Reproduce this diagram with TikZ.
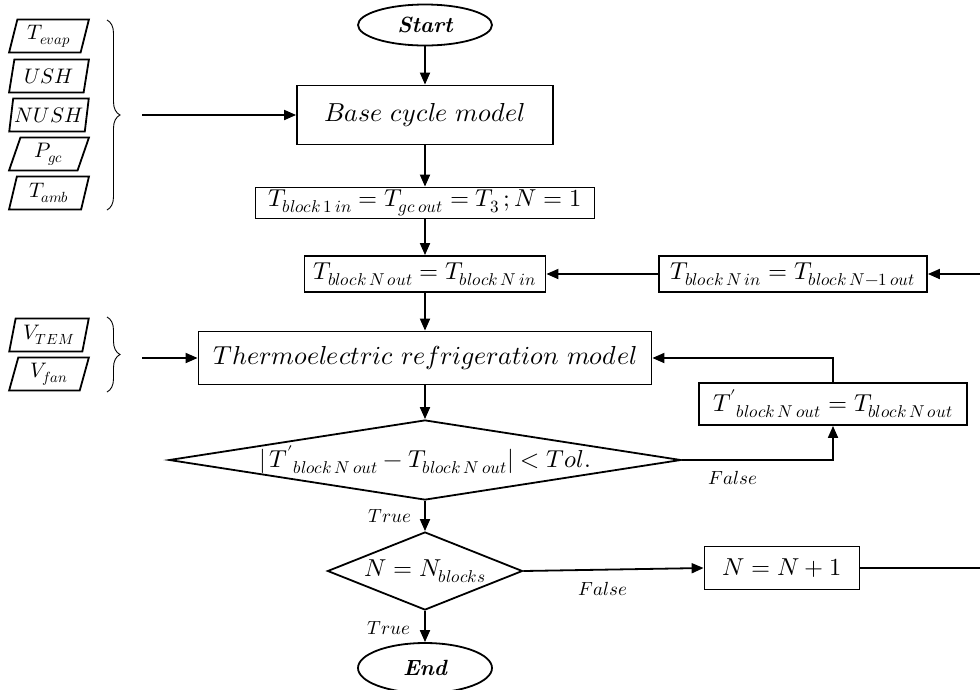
\documentclass[tikz,border=0pt]{standalone}
\usepackage{unicode-math}
\setmathfont{Latin Modern Math}
\usetikzlibrary{shapes.geometric,arrows.meta,decorations.pathreplacing}

\begin{document}
\begin{tikzpicture}[x=1pt,y=1pt,yscale=-1,
  box/.style={draw,line width=1.8pt,rectangle,inner sep=0pt,font=\fontsize{24.5}{28}\selectfont},
  bigbox/.style={box,font=\fontsize{26}{31}\selectfont},
  term/.style={draw,line width=1.8pt,ellipse,inner sep=0pt,minimum width=134pt,minimum height=41pt,font=\fontsize{22}{26}\selectfont\bfseries\itshape},
  test/.style={draw,line width=1.8pt,diamond,inner sep=0pt,font=\fontsize{24.5}{28}\selectfont},
  inbox/.style={draw,line width=1.8pt,trapezium,trapezium left angle=76,trapezium right angle=104,trapezium stretches=true,inner sep=0pt,minimum width=80pt,minimum height=33pt,font=\fontsize{21}{25}\selectfont},
  lbl/.style={inner sep=0pt,font=\fontsize{19}{23}\selectfont},
  arr/.style={line width=1.8pt,-{Triangle[length=12pt,width=10pt]}},
  brc/.style={line width=0.9pt,decorate,decoration={brace,amplitude=13pt}}]
\useasboundingbox (0,0) rectangle (980,689);

% Terminals
\node [term] (start) at (425,25) {Start};
\node [term,minimum height=50pt] (end) at (425,668) {End};

% Process boxes
\node [bigbox,minimum width=256pt,minimum height=59pt] (base) at (425,115) {$Base\ cycle\ model$};
\node [box,minimum width=339pt,minimum height=31pt] (init) at (425,203) {$T_{block\,1\,in}=T_{gc\,out}=T_3\,;N=1$};
\node [box,minimum width=241pt,minimum height=36pt] (nout) at (425,274) {$T_{block\,N\,out}=T_{block\,N\,in}$};
\node [box,minimum width=268pt,minimum height=36pt] (nin) at (793,274) {$T_{block\,N\,in}=T_{block\,N-1\,out}$};
\node [bigbox,minimum width=453pt,minimum height=53pt] (tem) at (425,358) {$Thermoelectric\ refrigeration\ model$};
\node [box,minimum width=268pt,minimum height=42pt] (upd) at (833,404) {$T'{}_{block\,N\,out}=T_{block\,N\,out}$};
\node [box,minimum width=155pt,minimum height=43pt] (inc) at (782,568) {$N=N+1$};

% Decisions
\node [test,aspect=6.4,minimum width=512pt,minimum height=80pt] (tol) at (425,460) {$|\,T'{}_{block\,N\,out}-T_{block\,N\,out}|<Tol.$};
\node [test,aspect=2.5,minimum width=195pt,minimum height=78pt] (chk) at (425,571) {$N=N_{blocks}$};

% Inputs
\foreach \y/\t [count=\i] in {36/{T_{evap}},76/{USH},115/{NUSH},154/{P_{gc}},193/{T_{amb}}}
  \node [inbox] (p\i) at (49,\y) {$\t$};
\node [inbox] (v1) at (49,335) {$V_{TEM}$};
\node [inbox] (v2) at (49,374) {$V_{fan}$};
\draw [brc] (107,20) -- (107,210);
\draw [brc] (107,317) -- (107,392);
\coordinate (pin) at (142,115);
\coordinate (vin) at (142,358);

% Right return line
\coordinate (rt) at (990,274);
\coordinate (rb) at (990,568);

% Connectors
\draw [arr] (start) -- (base);
\draw [arr] (pin) -- (base);
\draw [arr] (base) -- (init);
\draw [arr] (init) -- (nout);
\draw [arr] (nin) -- (nout);
\draw [arr] (inc.east) -- (rb) -- (rt) -- (nin.east);
\draw [arr] (nout) -- (tem);
\draw [arr] (vin) -- (tem);
\draw [arr] (tem) -- (tol);
\draw [arr] (tol.east) -| (upd.south);
\draw [arr] (upd.north) |- (tem.east);
\draw [arr] (tol) -- (chk);
\draw [arr] (chk.east) -- (inc.west);
\draw [arr] (chk) -- (end);

% Text Node
\node [lbl] (f1) at (733,478) {$False$};
\node [lbl] (f2) at (603,589) {$False$};
\node [lbl] (t1) at (390,516) {$True$};
\node [lbl] (t2) at (389,628) {$True$};

\end{tikzpicture}
\end{document}
